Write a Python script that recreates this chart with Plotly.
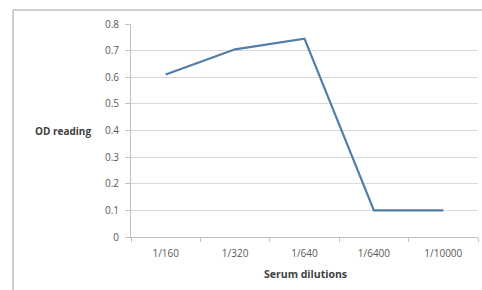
import plotly.graph_objects as go

categories = ["1/160", "1/320", "1/640", "1/6400", "1/10000"]
od_values = [0.61, 0.705, 0.745, 0.1, 0.1]
y_ticks = [0, 0.1, 0.2, 0.3, 0.4, 0.5, 0.6, 0.7, 0.8]
y_tick_labels = ["0", "0.1", "0.2", "0.3", "0.4", "0.5", "0.6", "0.7", "0.8"]

FONT = "Open Sans, Liberation Sans, sans-serif"
TXT = "#595959"

fig = go.Figure()
fig.add_trace(go.Scatter(
    x=categories, y=od_values, mode="lines",
    line=dict(color="#537ca6", width=2.2),
    showlegend=False,
))

W, H = 482, 290
L, R, T, B = 131, 4, 24, 53
pw, ph = W - L - R, H - T - B


def px_x(p):
    return (p - L) / pw


def px_y(p):
    return (H - B - p) / ph


border = dict(color="#cfcfcf", width=2)
fig.update_layout(
    width=W, height=H,
    margin=dict(l=L, r=R, t=T, b=B),
    paper_bgcolor="white", plot_bgcolor="white",
    font=dict(family=FONT, size=10, color=TXT),
    xaxis=dict(
        type="category", range=[-0.5, 4.5], tickson="boundaries", ticks="outside", ticklen=4,
        tickcolor="#bfbfbf", showline=True, linecolor="#bfbfbf", linewidth=1,
        showgrid=False, tickfont=dict(size=10, color=TXT), fixedrange=True,
        ticklabelstandoff=7,
    ),
    yaxis=dict(
        range=[0, 0.8], tickvals=y_ticks, ticktext=y_tick_labels,
        ticks="outside", ticklen=5, tickcolor="#bfbfbf",
        showline=True, linecolor="#bfbfbf", linewidth=1,
        showgrid=True, gridcolor="#d9d9d9", gridwidth=1, zeroline=False,
        tickfont=dict(size=10, color=TXT), fixedrange=True,
        ticklabelstandoff=4,
    ),
    shapes=[
        dict(type="line", xref="paper", yref="paper",
             x0=px_x(13), x1=px_x(13), y0=px_y(H + 5), y1=px_y(10), line=border),
        dict(type="line", xref="paper", yref="paper",
             x0=px_x(13), x1=px_x(W + 5), y0=px_y(10), y1=px_y(10), line=border),
    ],
    annotations=[
        dict(text="<b>OD reading</b>", xref="paper", yref="y", x=px_x(93), y=0.4,
             xanchor="right", yanchor="middle", showarrow=False,
             font=dict(size=10, color="#404040")),
        dict(text="<b>Serum dilutions</b>", xref="paper", yref="paper",
             x=px_x(305), y=px_y(274),
             xanchor="center", yanchor="middle", showarrow=False,
             font=dict(size=10.5, color="#404040")),
    ],
)

fig.write_html("out.html", config={"displayModeBar": False},
               post_script="document.body.style.margin='0';")
